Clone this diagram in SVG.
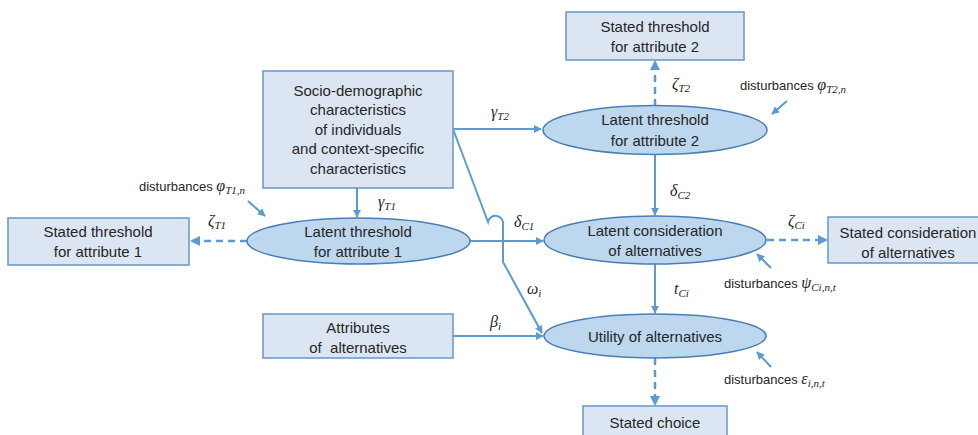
<svg xmlns="http://www.w3.org/2000/svg" width="978" height="435" viewBox="0 0 978 435">
<style>
.box{fill:#dce6f2;stroke:#6696c8;stroke-width:1.5}
.ell{fill:#bdd7ee;stroke:#4a7eb5;stroke-width:1.5}
.t{font-family:"Liberation Sans",Arial,sans-serif;font-size:15px;fill:#262626;text-anchor:middle}
.d{font-family:"Liberation Sans",Arial,sans-serif;font-size:13px;fill:#262626}
.m{font-family:"Liberation Serif","Times New Roman",serif;font-style:italic;font-size:16px;fill:#262626}
.s{font-size:11px}
.c{fill:none;stroke:#5b9bd5;stroke-width:2}
.dash{stroke-dasharray:7,5;stroke-width:2.5}
</style>
<defs>
<marker id="ah" viewBox="0 0 10 10" refX="9" refY="5" markerWidth="4" markerHeight="4" orient="auto"><path d="M0,0 L10,5 L0,10 z" fill="#5b9bd5"/></marker>
</defs>
<rect width="978" height="435" fill="#ffffff"/>
<g id="connectors">
<path class="c" d="M453,129 L541,129" marker-end="url(#ah)"/>
<path class="c" d="M453,129 L488,222 A7.5,7.5 0 0 1 503,225 L503,262 L542,333" marker-end="url(#ah)"/>
<path class="c" d="M357,188 L357,217" marker-end="url(#ah)"/>
<path class="c" d="M470,241 L543,241" marker-end="url(#ah)"/>
<path class="c" d="M655,155 L655,215" marker-end="url(#ah)"/>
<path class="c" d="M655,264 L655,313" marker-end="url(#ah)"/>
<path class="c" d="M453,336 L543,336" marker-end="url(#ah)"/>
<path class="c dash" d="M247,241 L191,241" marker-end="url(#ah)"/>
<path class="c dash" d="M655,106 L655,61" marker-end="url(#ah)"/>
<path class="c dash" d="M767,240 L827,240" marker-end="url(#ah)"/>
<path class="c dash" d="M655,358 L655,405" marker-end="url(#ah)"/>
<path class="c" d="M248,201 L265,216" marker-end="url(#ah)"/>
<path class="c" d="M787,101 L772,114" marker-end="url(#ah)"/>
<path class="c" d="M771,268 L757,254" marker-end="url(#ah)"/>
<path class="c" d="M771,367 L757,352" marker-end="url(#ah)"/>
</g>
<g id="socio">
<rect class="box" x="263" y="71" width="190" height="117"/>
<text class="t" x="358" y="96">Socio-demographic</text>
<text class="t" x="358" y="115">characteristics</text>
<text class="t" x="358" y="135">of individuals</text>
<text class="t" x="358" y="154">and context-specific</text>
<text class="t" x="358" y="174">characteristics</text>
</g>
<g id="stated-threshold-2">
<rect class="box" x="566" y="12" width="178" height="48"/>
<text class="t" x="655" y="32">Stated threshold</text>
<text class="t" x="655" y="52">for attribute 2</text>
</g>
<g id="latent-threshold-2">
<ellipse class="ell" cx="655" cy="130" rx="112" ry="24.5"/>
<text class="t" x="655" y="125">Latent threshold</text>
<text class="t" x="655" y="146">for attribute 2</text>
</g>
<g id="stated-threshold-1">
<rect class="box" x="8" y="218" width="181" height="47"/>
<text class="t" x="98" y="237">Stated threshold</text>
<text class="t" x="98" y="257">for attribute 1</text>
</g>
<g id="latent-threshold-1">
<ellipse class="ell" cx="358.5" cy="241" rx="111.5" ry="23"/>
<text class="t" x="358" y="237">Latent threshold</text>
<text class="t" x="358" y="257">for attribute 1</text>
</g>
<g id="latent-consideration">
<ellipse class="ell" cx="655" cy="240" rx="111" ry="24"/>
<text class="t" x="655" y="236">Latent consideration</text>
<text class="t" x="655" y="256">of alternatives</text>
</g>
<g id="stated-consideration">
<rect class="box" x="828" y="217" width="162" height="46"/>
<text class="t" x="908" y="238">Stated consideration</text>
<text class="t" x="908" y="258">of alternatives</text>
</g>
<g id="attributes">
<rect class="box" x="263" y="314" width="190" height="44"/>
<text class="t" x="358" y="333">Attributes</text>
<text class="t" x="358" y="353" xml:space="preserve">of  alternatives</text>
</g>
<g id="utility">
<ellipse class="ell" cx="655" cy="336" rx="111" ry="22"/>
<text class="t" x="655" y="342">Utility of alternatives</text>
</g>
<g id="stated-choice">
<rect class="box" x="583" y="406" width="144" height="40"/>
<text class="t" x="655" y="428">Stated choice</text>
</g>
<g id="labels">
<text class="m" x="491" y="117">γ<tspan class="s" dy="3">T2</tspan></text>
<text class="m" x="378" y="207">γ<tspan class="s" dy="3">T1</tspan></text>
<text class="m" x="208" y="226">ζ<tspan class="s" dy="3">T1</tspan></text>
<text class="m" x="514" y="227">δ<tspan class="s" dy="3">C1</tspan></text>
<text class="m" x="670" y="196">δ<tspan class="s" dy="3">C2</tspan></text>
<text class="m" x="672" y="89">ζ<tspan class="s" dy="3">T2</tspan></text>
<text class="m" x="788" y="226">ζ<tspan class="s" dy="3">Ci</tspan></text>
<text class="m" x="674" y="294">t<tspan class="s" dy="3">Ci</tspan></text>
<text class="m" x="490" y="327">β<tspan class="s" dy="3">i</tspan></text>
<text class="m" x="527" y="294">ω<tspan class="s" dy="3">i</tspan></text>
<text class="d" x="139" y="191">disturbances <tspan class="m">φ<tspan class="s" dy="3">T1,n</tspan></tspan></text>
<text class="d" x="740" y="90">disturbances <tspan class="m">φ<tspan class="s" dy="3">T2,n</tspan></tspan></text>
<text class="d" x="724" y="288">disturbances <tspan class="m">ψ<tspan class="s" dy="3">Ci,n,t</tspan></tspan></text>
<text class="d" x="724" y="384">disturbances <tspan class="m">ε<tspan class="s" dy="3">i,n,t</tspan></tspan></text>
</g>
</svg>
